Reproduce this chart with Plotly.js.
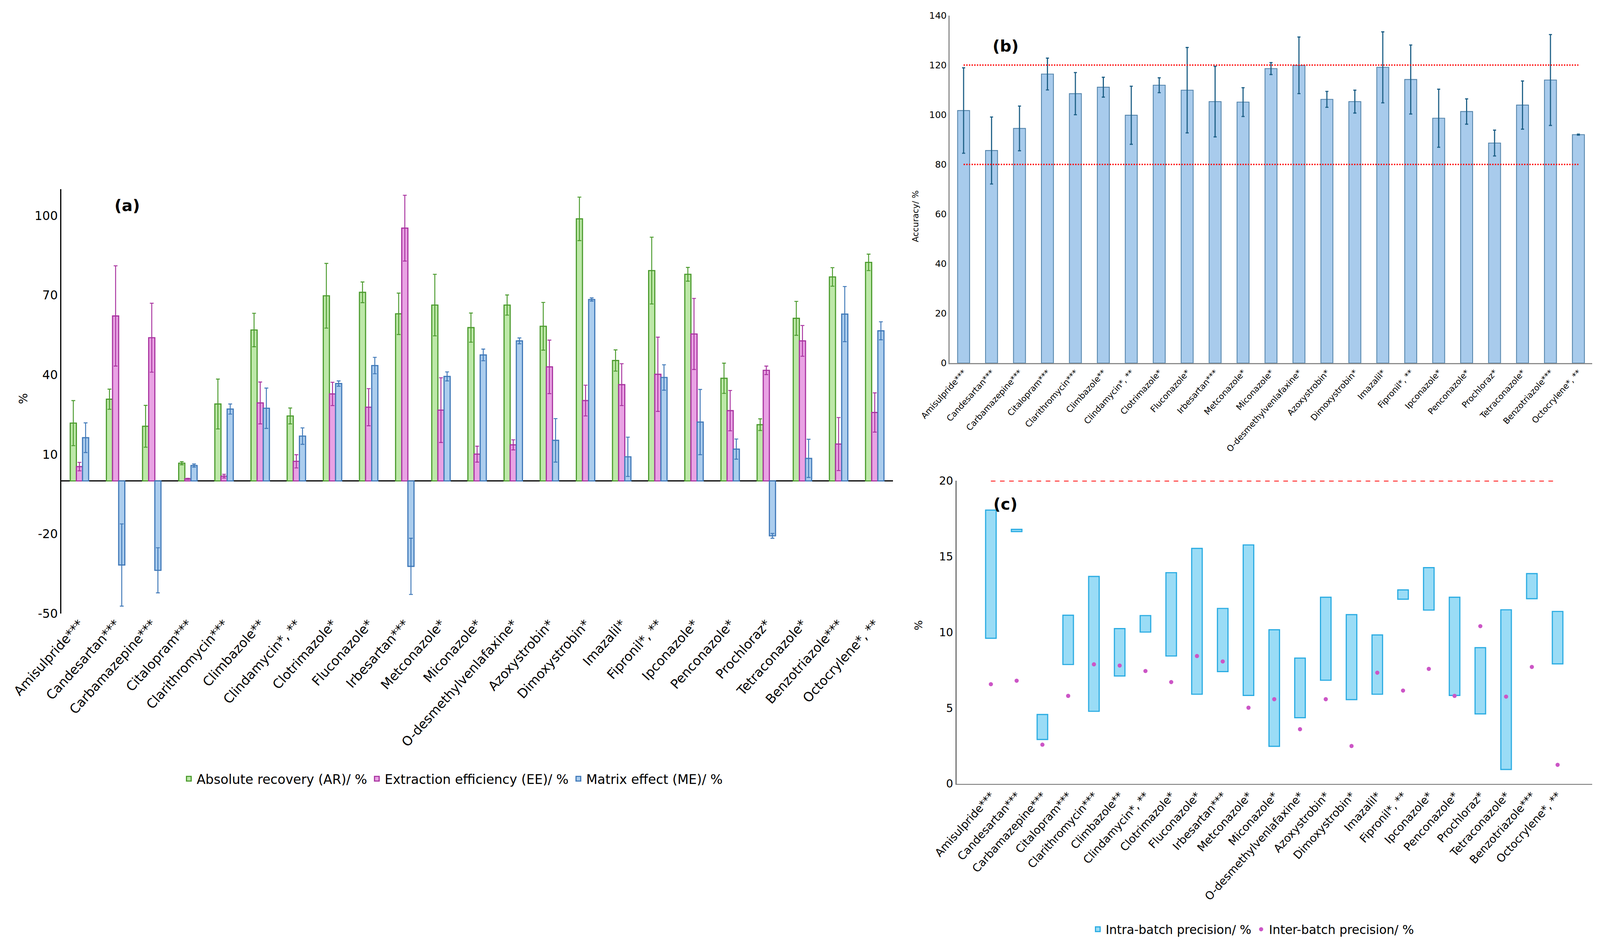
<!DOCTYPE html>
<html>
<head>
<meta charset="utf-8">
<script src="https://cdn.plot.ly/plotly-3.0.1.min.js"></script>
<style>html,body{margin:0;padding:0;background:#fff;overflow:hidden;}#chart{position:absolute;left:0;top:0;}</style>
</head>
<body>
<div id="chart"></div>
<script>
// ---------- data ----------
const compounds = ["Amisulpride***","Candesartan***","Carbamazepine***","Citalopram***","Clarithromycin***","Climbazole**","Clindamycin*, **","Clotrimazole*","Fluconazole*","Irbesartan***","Metconazole*","Miconazole*","O-desmethylvenlafaxine*","Azoxystrobin*","Dimoxystrobin*","Imazalil*","Fipronil*, **","Ipconazole*","Penconazole*","Prochloraz*","Tetraconazole*","Benzotriazole***","Octocrylene*, **"];

// panel (a)
const arValues = [21.8,30.8,20.6,6.7,29.0,56.9,24.5,69.8,71.1,63.0,66.3,57.8,66.3,58.3,98.8,45.4,79.3,77.9,38.7,21.2,61.3,76.9,82.4];
const arErrors = [8.5,3.8,7.9,0.6,9.4,6.3,3.0,12.2,3.9,7.8,11.6,5.5,3.8,9.0,8.2,4.0,12.6,2.6,5.7,2.2,6.4,3.5,3.1];
const eeValues = [5.4,62.2,54.0,0.8,1.8,29.4,7.4,32.8,27.8,95.3,26.7,10.1,13.6,43.0,30.3,36.3,40.2,55.4,26.5,41.7,52.8,13.9,25.8];
const eeErrors = [1.6,18.9,13.0,0.2,0.7,7.9,2.5,4.4,7.0,12.4,12.2,3.0,1.9,10.1,5.8,7.9,14.0,13.4,7.6,1.6,5.8,10.0,7.4];
const meValues = [16.3,-31.7,-33.7,5.8,27.1,27.4,16.9,36.7,43.5,-32.2,39.4,47.5,52.8,15.3,68.4,9.1,39.0,22.2,12.0,-20.7,8.5,62.9,56.6];
const meErrors = [5.6,15.5,8.5,0.6,1.9,7.6,3.1,1.0,3.1,10.6,1.7,2.2,1.1,8.2,0.6,7.4,4.8,12.3,3.8,0.9,7.2,10.4,3.4];
const legendA = ["Absolute recovery (AR)/ %","Extraction efficiency (EE)/ %","Matrix effect (ME)/ %"];
const yTicksA = [-50,-20,10,40,70,100];
const yTickLabelsA = ["-50","-20","10","40","70","100"];

// panel (b)
const accuracyValues = [101.7,85.6,94.5,116.4,108.5,111.1,99.8,111.9,109.9,105.3,105.1,118.6,119.9,106.2,105.3,119.1,114.2,98.6,101.3,88.6,103.9,114.0,92.0];
const accuracyErrors = [17.2,13.5,9.0,6.4,8.5,4.0,11.7,3.0,17.2,14.2,5.8,2.4,11.4,3.2,4.6,14.3,13.9,11.7,5.1,5.2,9.7,18.3,0.2];
const accuracyLimits = [80,120];

// panel (c)
const intraLow  = [9.60,16.64,2.92,7.87,4.78,7.11,10.01,8.43,5.91,7.40,5.83,2.47,4.36,6.83,5.55,5.91,12.18,11.46,5.83,4.61,0.94,12.21,7.91];
const intraHigh = [18.06,16.79,4.57,11.12,13.68,10.24,11.10,13.93,15.53,11.57,15.76,10.16,8.29,12.31,11.16,9.82,12.79,14.26,12.31,8.98,11.48,13.87,11.37];
const interValues = [6.57,6.80,2.58,5.80,7.88,7.80,7.44,6.71,8.43,8.07,5.02,5.58,3.60,5.58,2.49,7.33,6.15,7.58,5.80,10.40,5.75,7.71,1.25];
const precisionLimit = 20;
const legendC = ["Intra-batch precision/ %","Inter-batch precision/ %"];

// ---------- sizing (fit the actual viewport) ----------
const REF_W = 4197, REF_H = 2413;
const W = window.innerWidth || REF_W, H = window.innerHeight || REF_H;
const s = Math.min(W / REF_W, H / REF_H);
const div = document.getElementById("chart");
div.style.width = W + "px"; div.style.height = H + "px";
const px = v => v / REF_W, py = v => 1 - v / REF_H;
const fs = v => Math.round(v * s * 10) / 10;
const FONT = "DejaVu Sans, Verdana, sans-serif";

// ---------- traces ----------
function groupBar(name, vals, errs, fill, line) {
  return {
    type: "bar", name: name, x: compounds, y: vals, xaxis: "x", yaxis: "y",
    marker: {color: fill, line: {color: line, width: fs(3)}},
    error_y: {type: "data", array: errs, visible: true, color: line, thickness: fs(2.5), width: fs(5)},
    legend: "legend", cliponaxis: false
  };
}

const traces = [
  groupBar(legendA[0], arValues, arErrors, "#bde8a8", "#4a9a2c"),
  groupBar(legendA[1], eeValues, eeErrors, "#e9a2e4", "#a8329f"),
  groupBar(legendA[2], meValues, meErrors, "#abcdee", "#3f78b8"),
  {
    type: "bar", x: compounds, y: accuracyValues, xaxis: "x2", yaxis: "y2",
    width: 0.43, showlegend: false,
    marker: {color: "#a8cbec", line: {color: "#5283aa", width: fs(2.2)}},
    error_y: {type: "data", array: accuracyErrors, visible: true, color: "#1d5f86", thickness: fs(3), width: fs(4)}
  }
];
accuracyLimits.forEach(lim => {
  traces.push({
    type: "scatter", mode: "lines", x: [compounds[0], compounds[compounds.length-1]], y: [lim, lim],
    xaxis: "x2", yaxis: "y2", showlegend: false, hoverinfo: "skip",
    line: {color: "#ff0000", width: fs(3.5), dash: "dot"}
  });
});
traces.push({
  type: "bar", name: legendC[0], x: compounds, base: intraLow,
  y: intraHigh.map((h, i) => h - intraLow[i]),
  xaxis: "x3", yaxis: "y3", width: 0.41, legend: "legend2",
  marker: {color: "#9adcf6", line: {color: "#29abe2", width: fs(3)}}
});
traces.push({
  type: "scatter", mode: "markers", name: legendC[1], x: compounds, y: interValues,
  xaxis: "x3", yaxis: "y3", legend: "legend2",
  marker: {color: "#cc55c6", size: fs(11)}
});
traces.push({
  type: "scatter", mode: "lines", x: [compounds[0], compounds[compounds.length-1]], y: [precisionLimit, precisionLimit],
  xaxis: "x3", yaxis: "y3", showlegend: false, hoverinfo: "skip", cliponaxis: false,
  line: {color: "#ff0000", width: fs(4), dash: "dash"}
});

// ---------- layout ----------
const tf = size => ({size: fs(size), family: FONT, color: "#000"});
const layout = {
  width: W, height: H,
  margin: {l: 0, r: 0, t: 0, b: 0},
  paper_bgcolor: "#ffffff", plot_bgcolor: "#ffffff",
  font: {family: FONT, color: "#000"},
  barmode: "group", bargap: 0.49, bargroupgap: 0,
  xaxis: {
    domain: [px(161), px(2342)], anchor: "y", type: "category",
    showline: false, ticks: "", showgrid: false, zeroline: false,
    tickangle: -48, tickfont: tf(34), automargin: false
  },
  yaxis: {
    domain: [py(1570), py(484)], anchor: "x", range: [-50, 110],
    tickmode: "array", tickvals: yTicksA, ticktext: yTickLabelsA,
    showgrid: false, ticks: "",
    showline: true, linecolor: "#000", linewidth: fs(3),
    zeroline: true, zerolinecolor: "#000", zerolinewidth: fs(3),
    tickfont: tf(32), automargin: false
  },
  xaxis2: {
    domain: [px(2491), px(4177)], anchor: "y2", type: "category",
    showline: true, linecolor: "#8c8c8c", linewidth: fs(3), ticks: "", showgrid: false,
    tickangle: -48, tickfont: tf(22), automargin: false
  },
  yaxis2: {
    domain: [py(929), py(39.5)], anchor: "x2", range: [0, 140], dtick: 20,
    showline: true, linecolor: "#8c8c8c", linewidth: fs(3), ticks: "", showgrid: false, zeroline: false,
    tickfont: tf(24), automargin: false
  },
  xaxis3: {
    domain: [px(2509), px(4176)], anchor: "y3", type: "category",
    showline: true, linecolor: "#6e6e6e", linewidth: fs(3), ticks: "", showgrid: false,
    tickangle: -48, tickfont: tf(29), automargin: false
  },
  yaxis3: {
    domain: [py(2005.5), py(1230)], anchor: "x3", range: [0, 20], dtick: 5,
    showline: true, linecolor: "#6e6e6e", linewidth: fs(3), ticks: "", showgrid: false, zeroline: false,
    tickfont: tf(29), automargin: false
  },
  legend: {
    orientation: "h", x: px(1188), y: py(1993), xanchor: "center", yanchor: "middle",
    font: tf(34), bgcolor: "rgba(0,0,0,0)", itemwidth: 30
  },
  legend2: {
    orientation: "h", x: px(3287), y: py(2378), xanchor: "center", yanchor: "middle",
    font: tf(32), bgcolor: "rgba(0,0,0,0)", itemwidth: 30
  },
  annotations: [
    {text: "<b>(a)</b>", xref: "paper", yref: "paper", x: px(298), y: py(500), showarrow: false, font: tf(42)},
    {text: "<b>(b)</b>", xref: "paper", yref: "paper", x: px(2638), y: py(92), showarrow: false, font: tf(42)},
    {text: "<b>(c)</b>", xref: "paper", yref: "paper", x: px(2637), y: py(1290), showarrow: false, font: tf(42)},
    {text: "%", xref: "paper", yref: "paper", x: px(42), y: py(1020), showarrow: false, textangle: -90, font: tf(30)},
    {text: "Accuracy/ %", xref: "paper", yref: "paper", x: px(2401), y: py(485), showarrow: false, textangle: -90, font: tf(22)},
    {text: "%", xref: "paper", yref: "paper", x: px(2409), y: py(1615), showarrow: false, textangle: -90, font: tf(28)}
  ]
};

Plotly.newPlot("chart", traces, layout, {staticPlot: true, displayModeBar: false});
</script>
</body>
</html>
